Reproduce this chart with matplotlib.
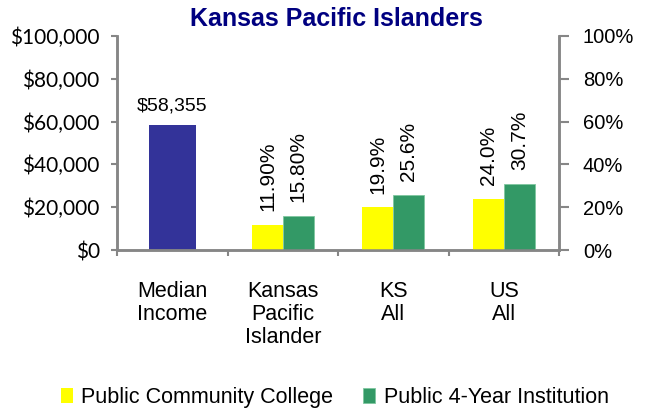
import matplotlib
matplotlib.use("Agg")
import matplotlib.pyplot as plt
import numpy as np
from matplotlib.ticker import FuncFormatter

# ── Datos ──────────────────────────────────────────────────────────
categorias = ["Median\nIncome", "Kansas\nPacific\nIslander", "KS\nAll", "US\nAll"]
ingreso_mediano = 58355
pct_cc = [11.9, 19.9, 24.0]          # Public Community College
pct_4yr = [15.8, 25.6, 30.7]         # Public 4-Year Institution
etiq_cc = ["11.90%", "19.9%", "24.0%"]
etiq_4yr = ["15.80%", "25.6%", "30.7%"]

# ── Paleta ─────────────────────────────────────────────────────────
NAVY = "#333399"
AMARILLO = "#FFFF00"
VERDE = "#339966"
GRIS = "#868686"
TITULO = "#000080"

plt.rcParams["font.family"] = ["Liberation Sans", "DejaVu Sans"]

fig = plt.figure(figsize=(6.54, 4.12), dpi=100)
ax = fig.add_axes([0.179, 0.393, 0.676, 0.52])
ax2 = ax.twinx()

x = np.arange(len(categorias))
ax.bar(x[0], ingreso_mediano, width=0.42, color=NAVY, zorder=2)
ax.text(x[0], ingreso_mediano + 5000, f"${ingreso_mediano:,}", ha="center",
        va="bottom", fontsize=14)

w = 0.28
xp = x[1:]
b1 = ax2.bar(xp - w / 2, pct_cc, width=w, color=AMARILLO, zorder=2,
             label="Public Community College")
b2 = ax2.bar(xp + w / 2, pct_4yr, width=w, color=VERDE, zorder=2,
             edgecolor="#7fc7a0", linewidth=0.6,
             label="Public 4-Year Institution")
for xi, v, t in zip(xp - w / 2, pct_cc, etiq_cc):
    ax2.annotate(t, (xi, v), xytext=(0, 10), textcoords="offset points",
                 rotation=90, ha="center", va="bottom", fontsize=15)
for xi, v, t in zip(xp + w / 2, pct_4yr, etiq_4yr):
    ax2.annotate(t, (xi, v), xytext=(0, 10), textcoords="offset points",
                 rotation=90, ha="center", va="bottom", fontsize=15)

ax.set_xlim(-0.5, 3.5)
ax.set_ylim(0, 100000)
ax2.set_ylim(0, 100)
ax.set_yticks(np.arange(0, 100001, 20000))
ax2.set_yticks(np.arange(0, 101, 20))
ax.yaxis.set_major_formatter(FuncFormatter(lambda v, p: f"${v:,.0f}"))
ax2.yaxis.set_major_formatter(FuncFormatter(lambda v, p: f"{v:.0f}%"))

ax.set_xticks(x)
ax.set_xticklabels(categorias, fontsize=15.5, linespacing=1.15, va="top")
ax.set_xticks(np.arange(-0.5, 4, 1), minor=True)
ax.tick_params(axis="x", which="major", length=0, pad=22)
ax.tick_params(axis="x", which="minor", length=4, width=1.5, color=GRIS)

ax.tick_params(axis="y", labelsize=15, labelfontfamily="Lato", length=4.5,
               width=1.5, color=GRIS, pad=8)
ax2.tick_params(axis="y", labelsize=14.5, length=7, width=1.5, color=GRIS, pad=10)

for a in (ax, ax2):
    a.spines["top"].set_visible(False)
    for s in ("left", "right", "bottom"):
        a.spines[s].set_color(GRIS)
        a.spines[s].set_linewidth(1.8)

fig.text(0.515, 0.955, "Kansas Pacific Islanders", ha="center", va="center",
         color=TITULO, fontsize=18, fontweight="bold")

fig.legend(handles=[b1, b2], loc="center", bbox_to_anchor=(0.512, 0.035), ncol=2,
           frameon=False, fontsize=15.5, handlelength=0.55, handleheight=0.75,
           handletextpad=0.4, columnspacing=1.4)

fig.savefig("out.png", dpi=100)
